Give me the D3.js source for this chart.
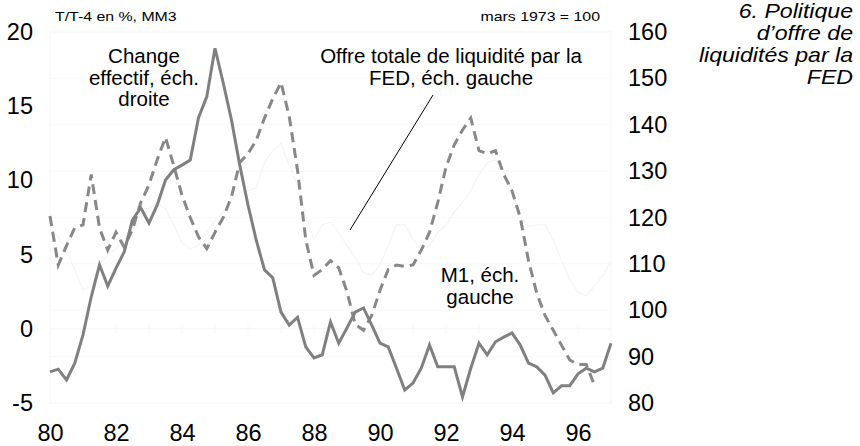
<!DOCTYPE html>
<html>
<head>
<meta charset="utf-8">
<script src="https://cdn.jsdelivr.net/npm/d3@7"></script>
<style>
  html, body { margin: 0; padding: 0; background: #fff; }
  svg { display: block; font-family: "Liberation Sans", Arial, sans-serif; }
</style>
</head>
<body>
<svg id="chart" width="860" height="446"></svg>
<script>
// ---- Data (quarterly, starting 1980 Q1) ----
const startYear = 1980;
// Change effectif (right scale, mars 1973 = 100)
const changeEffectif = [86.7, 87.3, 85.0, 88.6, 94.7, 102.9, 109.8, 105.2, 109.1, 112.6,
  119.5, 122.1, 118.8, 122.7, 128.1, 130.3, 131.3, 132.4, 141.5, 146.0,
  156.5, 149.0, 141.0, 131.3, 122.7, 115.1, 108.7, 107.0, 99.6, 96.8,
  98.5, 92.1, 89.7, 90.4, 97.5, 92.9, 96.2, 99.6, 100.5, 96.8,
  92.9, 92.1, 87.5, 82.8, 84.3, 87.5, 92.5, 87.8, 87.8, 87.8,
  81.3, 87.5, 92.9, 90.4, 93.2, 94.2, 95.1, 92.5, 88.6, 87.8,
  86.0, 82.2, 83.7, 83.7, 86.3, 87.5, 86.7, 87.5, 92.9];
// M1 (left scale, T/T-4 en %)
const m1 = [7.6, 4.3, 5.6, 6.8, 7.0, 10.4, 6.8, 5.3, 6.5, 5.5,
  6.7, 8.5, 9.7, 11.4, 12.9, 11.0, 9.0, 7.5, 6.2, 5.4,
  6.5, 7.5, 8.9, 11.2, 11.8, 12.7, 14.2, 15.5, 16.6, 14.3,
  10.7, 6.0, 3.6, 4.0, 4.6, 4.1, 2.5, 0.3, -0.1, 0.9,
  2.6, 4.0, 4.3, 4.2, 4.3, 5.3, 6.5, 8.5, 10.9, 12.4,
  13.4, 14.2, 12.0, 11.8, 12.0, 10.4, 9.3, 7.5, 4.6, 2.4,
  0.9, -0.1, -1.1, -2.1, -2.4, -2.4, -3.8];
// Offre totale de liquidité par la FED (left scale)
const offreTotale = [6.6, 6.2, 5.3, 4.0, 2.6, 2.9, 4.3, 5.0, 5.4, 6.0,
  6.6, 7.5, 8.1, 8.5, 8.1, 7.0, 5.8, 5.4, 5.6, 6.5,
  7.3, 7.9, 8.7, 9.2, 9.3, 9.5, 11.2, 12.0, 12.5, 11.0,
  9.7, 7.7, 6.0, 7.0, 7.2, 6.5, 5.6, 4.8, 3.8, 3.6,
  4.3, 5.6, 7.0, 7.0, 6.0, 5.4, 5.6, 6.5, 7.0, 7.9,
  8.5, 9.3, 10.4, 11.2, 11.4, 10.6, 9.3, 7.5, 6.9, 7.0,
  7.0, 6.0, 4.6, 3.3, 2.5, 2.2, 2.9, 3.6, 4.5];

const leftTicks = [-5, 0, 5, 10, 15, 20];
const rightTicks = [80, 90, 100, 110, 120, 130, 140, 150, 160];
const yearTicks = [1980, 1982, 1984, 1986, 1988, 1990, 1992, 1994, 1996];
const yearLabels = ["80", "82", "84", "86", "88", "90", "92", "94", "96"];

const leftUnit = "T/T-4 en %, MM3";
const rightUnit = "mars 1973 = 100";
const titleLines = ["6. Politique", "d\u2019offre de", "liquidités par la", "FED"];
const labelChange = ["Change", "effectif, éch.", "droite"];
const labelOffre = ["Offre totale de liquidité par la", "FED, éch. gauche"];
const labelM1 = ["M1, éch.", "gauche"];

// ---- Layout ----
const svg = d3.select("#chart");
const plot = { left: 50, right: 611, top: 32, bottom: 403 };

const x = d3.scaleLinear().domain([1980, 1997]).range([plot.left, plot.right]);
const yL = d3.scaleLinear().domain([-5, 20]).range([plot.bottom, plot.top]);
const yR = d3.scaleLinear().domain([80, 160]).range([plot.bottom, plot.top]);

const q = i => startYear + i / 4;

function stretch(sel, sx) {
  sel.each(function () {
    const w = this.getComputedTextLength();
    if (sx !== 1) {
      this.setAttribute("textLength", w * sx);
      this.setAttribute("lengthAdjust", "spacingAndGlyphs");
    }
  });
}

// faint frame & grid
const faint = "#f6f6f6";
svg.append("rect").attr("x", plot.left).attr("y", plot.top)
  .attr("width", plot.right - plot.left).attr("height", plot.bottom - plot.top)
  .attr("fill", "none").attr("stroke", faint);
svg.append("g").selectAll("line").data(rightTicks.slice(1, -1)).join("line")
  .attr("x1", plot.left).attr("x2", plot.right)
  .attr("y1", d => yR(d)).attr("y2", d => yR(d))
  .attr("stroke", "#f9f9f9");
svg.append("line").attr("x1", plot.left).attr("x2", plot.right)
  .attr("y1", yL(0)).attr("y2", yL(0)).attr("stroke", faint);
svg.append("g").selectAll("line").data(d3.range(1981, 1997)).join("line")
  .attr("x1", d => x(d)).attr("x2", d => x(d))
  .attr("y1", yL(0) - 4).attr("y2", yL(0) + 4).attr("stroke", faint);

// lines
const lineL = d3.line().x((d, i) => x(q(i))).y(d => yL(d));
const lineR = d3.line().x((d, i) => x(q(i))).y(d => yR(d));

svg.append("path").datum(offreTotale).attr("d", lineL)
  .attr("fill", "none").attr("stroke", "#f5f5f5").attr("stroke-width", 1.2);
svg.append("path").datum(m1).attr("d", lineL)
  .attr("fill", "none").attr("stroke", "#888").attr("stroke-width", 3)
  .attr("stroke-dasharray", "10,6");
svg.append("path").datum(changeEffectif).attr("d", lineR)
  .attr("fill", "none").attr("stroke", "#808080").attr("stroke-width", 3)
  .attr("stroke-linejoin", "miter");

// axes
const axL = svg.append("g").attr("transform", `translate(33,0)`)
  .call(d3.axisLeft(yL).tickValues(leftTicks).tickSize(0).tickPadding(0).tickFormat(d3.format("d")));
const axR = svg.append("g").attr("transform", `translate(628,0)`)
  .call(d3.axisRight(yR).tickValues(rightTicks).tickSize(0).tickPadding(0));
const axB = svg.append("g").attr("transform", `translate(0,424)`)
  .call(d3.axisBottom(x).tickValues(yearTicks).tickSize(0).tickPadding(0)
    .tickFormat((d, i) => yearLabels[i]));
[axL, axR, axB].forEach(a => {
  a.select(".domain").remove();
  a.selectAll("text").attr("font-size", 23.5).attr("fill", "#000")
    .attr("font-family", "Liberation Sans, Arial, sans-serif");
});
axL.selectAll("text").text(d => d < 0 ? "-" + Math.abs(d) : d);

// unit labels
const u1 = svg.append("text").attr("x", 55).attr("y", 21).attr("font-size", 13).text(leftUnit);
const u2 = svg.append("text").attr("x", 600).attr("y", 21).attr("font-size", 13)
  .attr("text-anchor", "end").text(rightUnit);
stretch(u1, 1.22); stretch(u2, 1.22);

// title
const tt = svg.append("g").selectAll("text").data(titleLines).join("text")
  .attr("x", 853).attr("y", (d, i) => 18 + i * 22)
  .attr("text-anchor", "end").attr("font-size", 21).attr("font-style", "italic")
  .text(d => d);
stretch(tt, 1.1);

// annotations
function label(lines, cx, y0, lh) {
  svg.append("g").selectAll("text").data(lines).join("text")
    .attr("x", cx).attr("y", (d, i) => y0 + i * lh)
    .attr("text-anchor", "middle").attr("font-size", 20.5).attr("fill", "#000")
    .text(d => d);
}
label(labelChange, 144, 63, 21.7);
label(labelOffre, 451, 63, 22);
label(labelM1, 480, 282, 21.5);

// pointer
svg.append("line").attr("x1", 433).attr("y1", 95).attr("x2", 350).attr("y2", 230)
  .attr("stroke", "#000").attr("stroke-width", 1);
</script>
</body>
</html>
